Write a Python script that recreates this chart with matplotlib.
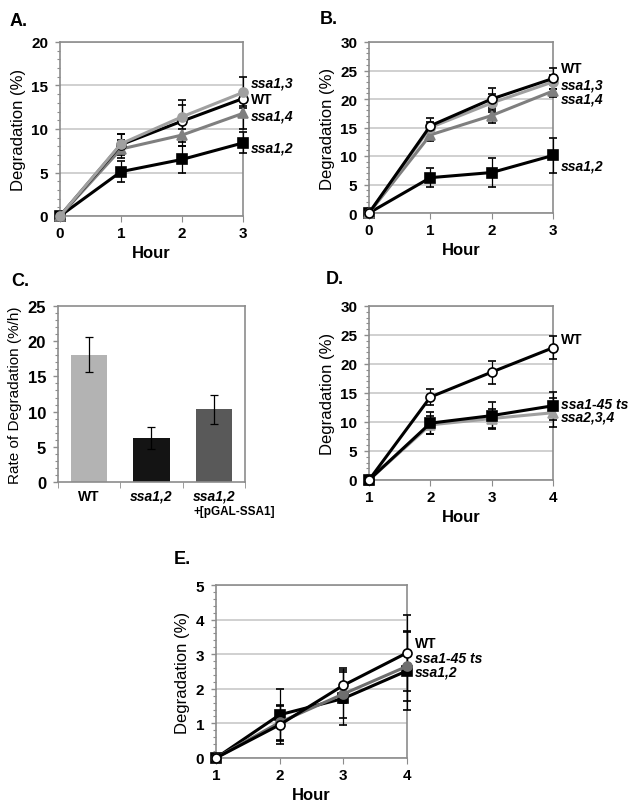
import matplotlib
matplotlib.use("Agg")
import matplotlib.pyplot as plt
from matplotlib.ticker import MultipleLocator

plt.rcParams['font.family'] = ['Liberation Sans', 'DejaVu Sans']

# Panel A
hours_a = [0, 1, 2, 3]
a_wt = [0, 8.2, 10.9, 13.5]
a_wt_err = [0, 1.2, 2.4, 0.8]
a_ssa13 = [0, 8.3, 11.4, 14.2]
a_ssa13_err = [0, 1.1, 1.4, 1.8]
a_ssa14 = [0, 7.7, 9.3, 11.8]
a_ssa14_err = [0, 1.0, 1.3, 1.8]
a_ssa12 = [0, 5.1, 6.5, 8.4]
a_ssa12_err = [0, 1.2, 1.5, 1.2]

# Panel B
hours_b = [0, 1, 2, 3]
b_wt = [0, 15.3, 20.0, 23.6]
b_wt_err = [0, 1.3, 2.0, 1.9]
b_ssa13 = [0, 15.0, 19.3, 23.0]
b_ssa13_err = [0, 1.0, 1.5, 1.2]
b_ssa14 = [0, 13.7, 17.1, 21.4]
b_ssa14_err = [0, 1.0, 1.3, 1.0]
b_ssa12 = [0, 6.2, 7.1, 10.1]
b_ssa12_err = [0, 1.7, 2.5, 3.0]

# Panel C
strains_c = ['WT', 'ssa1,2', 'ssa1,2']
rates_c = [18.1, 6.25, 10.3]
rates_c_err = [2.5, 1.5, 2.0]

# Panel D
hours_d = [1, 2, 3, 4]
d_wt = [0, 14.3, 18.6, 22.8]
d_wt_err = [0, 1.4, 2.0, 2.0]
d_ssa145 = [0, 9.8, 11.1, 12.8]
d_ssa145_err = [0, 1.9, 2.3, 2.4]
d_ssa234 = [0, 9.5, 10.6, 11.6]
d_ssa234_err = [0, 1.5, 1.6, 2.5]

# Panel E
hours_e = [1, 2, 3, 4]
e_wt = [0, 0.96, 2.1, 3.04]
e_wt_err = [0, 0.55, 0.5, 1.1]
e_ssa145 = [0, 1.03, 1.85, 2.65]
e_ssa145_err = [0, 0.5, 0.7, 1.0]
e_ssa12 = [0, 1.25, 1.72, 2.52]
e_ssa12_err = [0, 0.75, 0.78, 1.14]

W, H = 633, 812
fig = plt.figure(figsize=(W / 100, H / 100), dpi=100)

SPINE = '#8c8c8c'
GRID = '#c4c4c4'


def add_axes_px(left, right, top, bottom):
    return fig.add_axes([left / W, 1 - bottom / H, (right - left) / W, (bottom - top) / H])


def style_axes(ax, ymax, ystep, ylabel, ylabel_size=12, tick_size=11, grid=True):
    for s in ax.spines.values():
        s.set_color(SPINE)
        s.set_linewidth(1.2)
    ax.set_ylim(0, ymax)
    ax.yaxis.set_major_locator(MultipleLocator(ystep))
    ax.yaxis.set_minor_locator(MultipleLocator(ystep / 5))
    if grid:
        ax.grid(True, axis='y', which='major', color=GRID, linewidth=1.1)
    ax.set_axisbelow(True)
    ax.tick_params(axis='y', which='major', length=3.5, width=1, color=SPINE, pad=5,
                   labelsize=tick_size)
    ax.tick_params(axis='y', which='minor', length=2.5, color=SPINE, width=0.8)
    ax.tick_params(axis='x', length=4, color=SPINE, labelsize=tick_size)
    for lbl in ax.get_xticklabels() + ax.get_yticklabels():
        lbl.set_fontweight('bold')
    ax.set_ylabel(ylabel, fontsize=ylabel_size, labelpad=4)


def draw_series(ax, x, y, err, color, marker, mfc, ms=6.5):
    ax.errorbar(x, y, yerr=err, color=color, lw=2.2, marker=marker, ms=ms,
                mfc=mfc, mec=color if mfc != 'white' else 'black', mew=1.2,
                ecolor='black', elinewidth=0.9, capsize=3, capthick=0.9, clip_on=False, zorder=3)


def label(ax, x, y, text, italic=True, dx=6):
    ax.annotate(text, xy=(x, y), xytext=(dx, 0), textcoords='offset points',
                va='center', ha='left', fontsize=10, fontweight='bold',
                fontstyle='italic' if italic else 'normal', annotation_clip=False)


def time_panel(ax, hours, ymax, ystep):
    ax.set_xlim(hours[0], hours[-1])
    ax.set_xticks(hours)
    style_axes(ax, ymax, ystep, 'Degradation (%)')
    ax.set_xlabel('Hour', fontsize=12, fontweight='bold', labelpad=3)


# ---- A ----
ax = add_axes_px(60, 243, 43, 217)
time_panel(ax, hours_a, 20, 5)
draw_series(ax, hours_a, a_ssa12, a_ssa12_err, 'black', 's', 'black')
draw_series(ax, hours_a, a_ssa14, a_ssa14_err, '#7f7f7f', '^', '#7f7f7f')
draw_series(ax, hours_a, a_wt, a_wt_err, 'black', 'o', 'white')
draw_series(ax, hours_a, a_ssa13, a_ssa13_err, '#a0a0a0', 'o', '#a0a0a0')
label(ax, 3, 15.4, 'ssa1,3')
label(ax, 3, 13.4, 'WT', italic=False)
label(ax, 3, 11.6, 'ssa1,4')
label(ax, 3, 7.9, 'ssa1,2')
fig.text(10 / W, 1 - 22 / H, 'A.', fontsize=13, fontweight='bold', va='center')

# ---- B ----
ax = add_axes_px(369, 553, 43, 214)
time_panel(ax, hours_b, 30, 5)
draw_series(ax, hours_b, b_ssa12, b_ssa12_err, 'black', 's', 'black')
draw_series(ax, hours_b, b_ssa14, b_ssa14_err, '#7f7f7f', '^', '#7f7f7f')
draw_series(ax, hours_b, b_ssa13, b_ssa13_err, '#a0a0a0', 'o', '#a0a0a0')
draw_series(ax, hours_b, b_wt, b_wt_err, 'black', 'o', 'white')
label(ax, 3, 25.4, 'WT', italic=False)
label(ax, 3, 22.5, 'ssa1,3')
label(ax, 3, 20.0, 'ssa1,4')
label(ax, 3, 8.4, 'ssa1,2')
fig.text(320 / W, 1 - 19 / H, 'B.', fontsize=13, fontweight='bold', va='center')

# ---- C ----
ax = add_axes_px(58, 245, 307, 483)
xpos = range(len(strains_c))
ax.bar(xpos, rates_c, width=0.58, color=['#b3b3b3', '#141414', '#595959'], zorder=2)
ax.errorbar(xpos, rates_c, yerr=rates_c_err, fmt='none', ecolor='black',
            elinewidth=0.9, capsize=3, capthick=0.9, zorder=3)
ax.set_xlim(-0.5, 2.5)
ax.set_xticks(list(xpos))
style_axes(ax, 25, 5, 'Rate of Degradation (%/h)', ylabel_size=11, tick_size=12, grid=False)
ax.tick_params(axis='x', which='major', length=0, pad=5)
ax.set_xticks([-0.5, 0.5, 1.5, 2.5], minor=True)
ax.tick_params(axis='x', which='minor', length=4, color=SPINE)
ax.set_xticklabels(strains_c, fontsize=10, fontweight='bold')
for lbl in ax.get_xticklabels()[1:]:
    lbl.set_fontstyle('italic')
# second line of the third category label, left-aligned under "ssa1,2"
ax.annotate('+[pGAL-SSA1]', xy=(1.68, 0), xycoords=('data', 'axes fraction'),
            xytext=(0, -21), textcoords='offset points',
            ha='left', va='center', fontsize=8.5, fontweight='bold', annotation_clip=False)
fig.text(11 / W, 1 - 281 / H, 'C.', fontsize=13, fontweight='bold', va='center')

# ---- D ----
ax = add_axes_px(369, 553, 307, 481)
time_panel(ax, hours_d, 30, 5)
draw_series(ax, hours_d, d_ssa234, d_ssa234_err, '#a0a0a0', '^', '#a0a0a0')
draw_series(ax, hours_d, d_ssa145, d_ssa145_err, 'black', 's', 'black')
draw_series(ax, hours_d, d_wt, d_wt_err, 'black', 'o', 'white')
label(ax, 4, 24.3, 'WT', italic=False)
label(ax, 4, 13.1, 'ssa1-45 ts')
label(ax, 4, 10.9, 'ssa2,3,4')
fig.text(326 / W, 1 - 280 / H, 'D.', fontsize=13, fontweight='bold', va='center')

# ---- E ----
ax = add_axes_px(216, 407, 586, 759)
time_panel(ax, hours_e, 5, 1)
draw_series(ax, hours_e, e_ssa12, e_ssa12_err, 'black', 's', 'black')
draw_series(ax, hours_e, e_ssa145, e_ssa145_err, '#6e6e6e', 'o', '#6e6e6e')
draw_series(ax, hours_e, e_wt, e_wt_err, 'black', 'o', 'white')
label(ax, 4, 3.32, 'WT', italic=False)
label(ax, 4, 2.89, 'ssa1-45 ts')
label(ax, 4, 2.49, 'ssa1,2')
fig.text(174 / W, 1 - 560 / H, 'E.', fontsize=13, fontweight='bold', va='center')

fig.savefig('out.png', dpi=100)
